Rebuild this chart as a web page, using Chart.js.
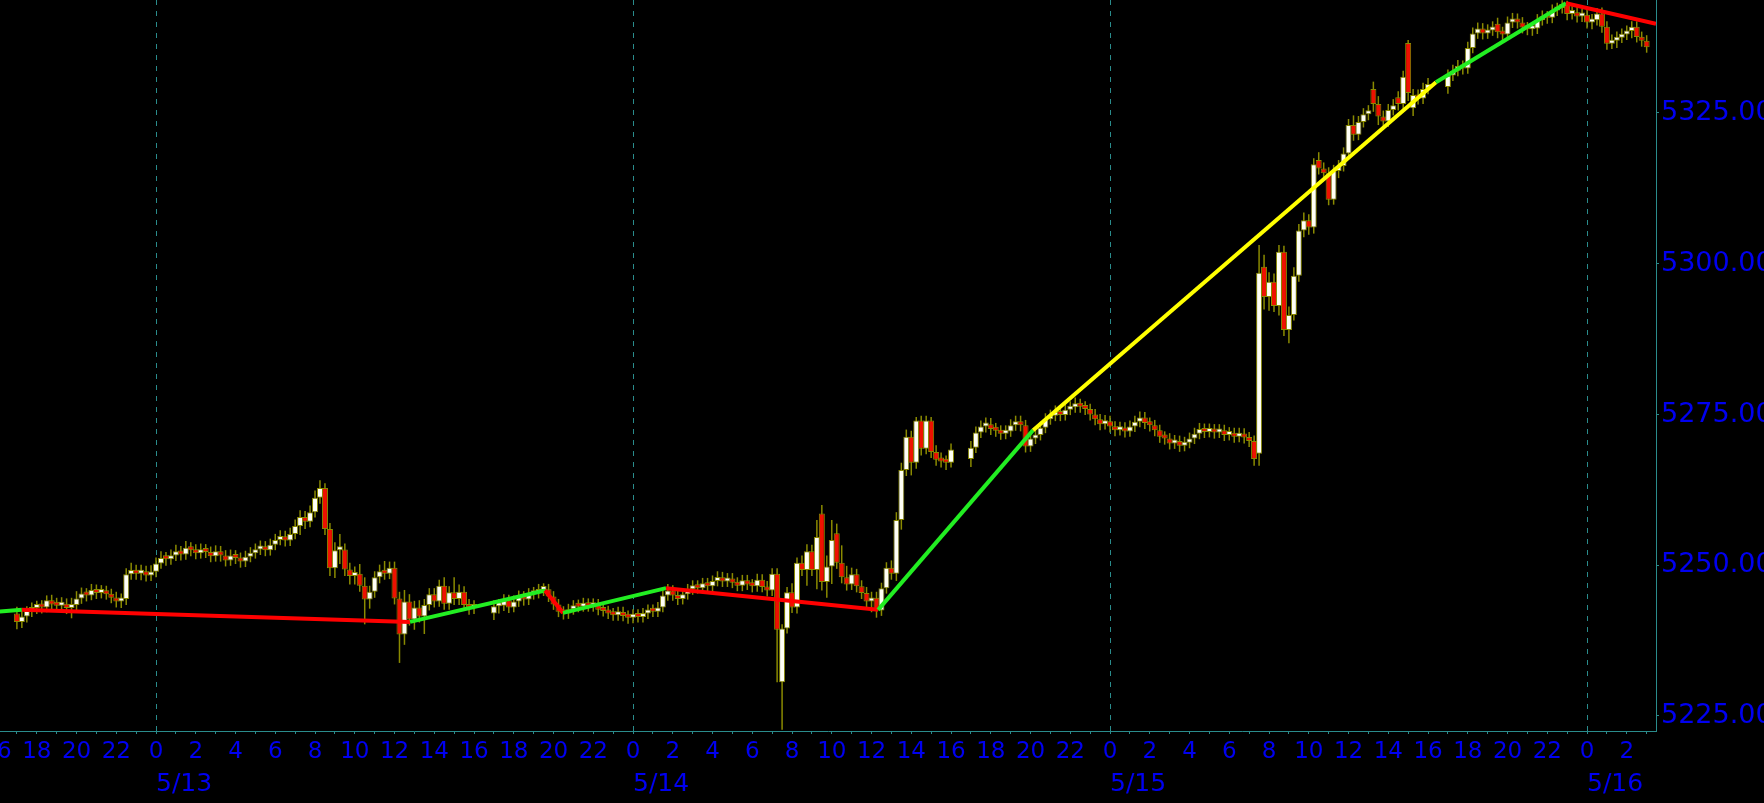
<!DOCTYPE html>
<html>
<head>
<meta charset="utf-8">
<script src="https://cdn.jsdelivr.net/npm/chart.js@4.4.1/dist/chart.umd.min.js"></script>
<style>
html,body{margin:0;padding:0;background:#000;overflow:hidden;}
canvas{display:block;background:#000;}
</style>
</head>
<body>
<canvas id="c" width="1764" height="803"></canvas>
<script>
// ---- time axis: 15-minute bars, hours relative to 5/13 00:00 ----
const sessions = [[-7, 16], [17, 40], [41, 64], [65, 75]];

// ---- OHLC values ----
const opens = [
5242.0,5240.6,5241.5,5242.4,5242.9,5243.1,5243.0,5244.2,5243.5,5243.3,
5243.6,5242.9,5243.4,5244.5,5245.3,5245.0,5245.9,5245.4,5245.8,5245.2,
5244.6,5244.0,5244.4,5248.5,5249.2,5248.6,5249.0,5248.3,5248.9,5250.3,
5251.2,5251.0,5251.6,5252.3,5251.8,5252.9,5252.5,5252.0,5252.6,5252.2,
5251.5,5252.3,5251.6,5250.8,5251.6,5251.2,5250.6,5251.4,5252.0,5252.6,
5253.1,5252.5,5253.4,5254.2,5254.8,5254.1,5255.2,5256.5,5258.0,5257.2,
5258.8,5261.2,5262.8,5256.0,5249.5,5252.5,5252.6,5249.3,5248.2,5248.6,
5246.6,5244.3,5245.6,5248.0,5249.0,5248.6,5249.6,5244.5,5238.5,5244.0,
5241.0,5243.0,5241.5,5243.4,5245.2,5244.0,5246.6,5243.6,5245.5,5244.4,
5245.6,5243.4,5242.9,
5242.0,5243.2,5243.3,5244.2,5243.0,5244.0,5244.8,5244.3,5245.2,5245.4,
5245.9,5246.0,5244.8,5243.5,5242.3,5242.0,5242.7,5243.3,5243.1,5243.6,
5243.2,5243.5,5242.6,5242.4,5242.0,5241.7,5242.2,5241.6,5241.3,5241.8,
5241.4,5242.0,5242.6,5242.3,5243.0,5245.0,5245.8,5245.0,5244.4,5245.2,
5246.0,5246.6,5246.2,5247.0,5246.5,5247.4,5248.0,5247.3,5247.8,5247.1,
5246.6,5247.5,5246.8,5246.5,5247.6,5246.4,5245.8,5248.6,5230.6,5239.5,
5245.5,5243.0,5250.4,5249.2,5252.3,5249.2,5258.6,5247.2,5249.8,5255.3,
5250.4,5248.0,5246.8,5248.5,5246.5,5245.4,5244.0,5244.6,5242.5,5246.2,
5249.6,5248.6,5257.5,5265.8,5271.3,5267.0,5274.0,5269.3,5274.0,5268.8,
5267.5,5267.2,5267.0,
5267.6,5269.5,5272.0,5273.0,5273.4,5272.6,5272.3,5271.8,5272.2,5273.2,
5273.8,5273.2,5269.7,5271.0,5271.6,5272.8,5274.2,5274.8,5275.5,5274.9,
5275.8,5276.2,5276.8,5276.3,5275.9,5275.0,5274.2,5273.4,5273.9,5273.0,
5272.4,5272.8,5272.2,5273.0,5273.8,5274.5,5273.6,5273.2,5272.4,5271.3,
5271.0,5270.2,5270.6,5269.8,5270.3,5271.0,5271.8,5272.6,5272.1,5272.5,
5272.0,5272.4,5271.6,5271.9,5271.3,5271.8,5271.2,5270.6,5268.5,5299.5,
5294.5,5297.0,5293.0,5302.0,5289.0,5291.5,5298.0,5305.5,5307.2,5306.0,
5317.2,5315.8,5315.0,5310.6,5315.4,5316.2,5318.3,5323.0,5321.4,5323.5,
5324.8,5329.0,5326.5,5324.4,5323.6,5325.5,5327.6,5326.5,5336.6,5325.8,
5328.0,5327.4,5329.0,
5329.3,5331.2,5332.0,5332.8,5332.4,5335.8,5338.2,5339.0,5338.2,5338.7,
5339.8,5338.4,5338.0,5340.0,5340.6,5340.0,5339.2,5338.9,5339.0,5340.4,
5341.0,5340.8,5342.0,5342.4,5343.0,5341.4,5341.7,5341.0,5341.3,5340.0,
5340.4,5341.5,5339.3,5336.5,5337.0,5337.5,5338.0,5338.6,5339.3,5337.6,
5337.0
];
const highs = [
5243.1,5242.4,5243.2,5243.8,5244.1,5244.2,5245.0,5245.1,5244.6,5244.7,
5244.5,5244.6,5245.7,5246.3,5246.2,5246.9,5246.8,5246.7,5246.6,5246.1,
5245.6,5245.3,5249.5,5250.4,5250.1,5250.1,5249.9,5250.0,5251.3,5252.3,
5252.2,5252.6,5253.4,5253.2,5254.0,5253.8,5253.5,5253.6,5253.5,5253.1,
5253.3,5253.2,5252.5,5252.6,5252.5,5252.1,5252.4,5253.0,5253.6,5254.1,
5254.0,5254.4,5255.2,5255.8,5255.7,5256.2,5257.6,5259.1,5259.0,5259.9,
5262.4,5264.1,5263.6,5257.0,5253.8,5255.2,5253.6,5250.4,5249.8,5250.2,
5248.0,5246.6,5249.0,5250.1,5250.7,5250.6,5250.6,5245.6,5245.9,5245.2,
5244.1,5244.2,5244.4,5246.2,5246.2,5247.6,5248.0,5246.5,5248.0,5246.8,
5246.5,5244.4,5244.2,
5244.2,5244.4,5245.2,5245.1,5245.0,5245.8,5245.7,5246.2,5246.4,5246.9,
5247.0,5246.9,5245.7,5244.4,5243.2,5243.6,5244.2,5244.3,5244.6,5244.5,
5244.5,5244.4,5243.5,5243.3,5242.9,5243.1,5243.1,5242.5,5242.7,5242.7,
5242.9,5243.5,5243.5,5243.9,5245.9,5246.9,5246.7,5245.9,5246.1,5246.9,
5247.5,5247.5,5247.9,5247.9,5248.3,5249.0,5248.9,5248.7,5248.7,5248.0,
5248.4,5248.4,5247.7,5248.6,5248.5,5247.4,5249.5,5249.5,5240.2,5246.4,
5247.0,5251.3,5251.6,5253.5,5253.4,5257.5,5260.0,5251.6,5257.5,5256.9,
5253.3,5249.9,5249.6,5249.4,5247.5,5246.4,5245.6,5245.6,5247.1,5250.5,
5250.8,5258.8,5267.0,5272.5,5272.3,5274.6,5274.8,5274.8,5274.6,5269.9,
5268.7,5268.2,5270.2,
5270.6,5273.0,5274.0,5274.5,5274.4,5273.6,5273.2,5273.2,5274.2,5274.8,
5274.8,5274.1,5272.0,5272.6,5273.8,5275.2,5275.8,5276.5,5276.4,5276.8,
5277.2,5277.8,5277.6,5277.2,5276.8,5275.9,5275.1,5274.9,5274.8,5273.9,
5273.8,5273.7,5274.0,5274.8,5275.5,5275.4,5274.5,5274.1,5273.3,5272.2,
5271.9,5271.6,5271.5,5271.3,5272.0,5272.8,5273.6,5273.5,5273.5,5273.4,
5273.4,5273.3,5272.9,5272.8,5272.8,5272.7,5272.1,5271.5,5303.1,5301.5,
5298.6,5298.4,5303.1,5303.0,5292.9,5299.4,5306.6,5308.5,5308.2,5317.5,
5318.5,5316.8,5316.0,5316.4,5317.2,5319.3,5324.0,5324.6,5324.5,5325.8,
5326.3,5330.2,5327.8,5325.4,5326.5,5327.3,5328.6,5332.0,5337.1,5329.0,
5328.9,5330.0,5330.8,
5332.2,5333.0,5333.8,5333.7,5336.8,5339.2,5340.0,5339.9,5339.7,5340.2,
5340.8,5339.3,5341.0,5341.6,5341.5,5340.9,5340.1,5340.0,5341.4,5342.0,
5341.9,5343.0,5343.3,5343.7,5343.6,5342.7,5342.6,5342.3,5342.2,5341.4,
5342.4,5342.5,5340.2,5338.0,5338.5,5339.0,5339.5,5340.2,5340.2,5338.5,
5337.9
];
const lows = [
5239.4,5239.6,5240.5,5241.4,5241.9,5242.0,5242.2,5242.6,5242.3,5242.4,
5241.9,5241.2,5242.5,5243.6,5244.0,5244.2,5244.4,5244.5,5244.3,5243.7,
5243.0,5242.9,5243.4,5247.6,5247.6,5247.5,5247.3,5247.4,5248.0,5249.4,
5249.9,5250.1,5250.7,5250.8,5250.9,5251.5,5251.0,5251.1,5251.2,5250.5,
5250.6,5250.6,5249.8,5249.9,5250.2,5249.6,5249.7,5250.5,5251.1,5251.7,
5251.5,5251.6,5252.5,5253.3,5253.1,5253.2,5254.3,5255.0,5256.0,5256.3,
5257.9,5260.2,5255.0,5248.2,5247.9,5250.2,5248.2,5246.8,5246.8,5245.6,
5240.2,5242.8,5244.6,5247.0,5247.6,5247.7,5243.5,5233.8,5236.8,5240.0,
5239.3,5240.5,5238.6,5242.5,5243.0,5243.1,5242.6,5242.6,5243.4,5243.4,
5242.4,5241.8,5241.9,
5240.9,5242.0,5242.4,5242.1,5242.2,5243.1,5243.3,5243.4,5244.3,5244.5,
5244.9,5243.9,5242.6,5241.4,5241.0,5241.1,5241.8,5242.2,5242.3,5242.3,
5242.3,5241.7,5241.5,5241.1,5240.8,5240.8,5240.7,5240.3,5240.4,5240.5,
5240.5,5241.1,5241.4,5241.4,5242.2,5244.1,5244.1,5243.4,5243.5,5244.3,
5245.1,5245.3,5245.3,5245.6,5245.6,5246.5,5246.4,5246.4,5246.2,5245.7,
5245.7,5245.9,5245.5,5245.6,5245.5,5244.8,5244.9,5230.6,5222.7,5238.7,
5242.1,5242.0,5248.2,5246.6,5248.2,5246.0,5245.8,5244.6,5246.9,5249.4,
5247.0,5245.8,5245.9,5245.5,5244.4,5243.0,5242.2,5241.3,5241.6,5245.3,
5247.6,5247.4,5255.9,5264.8,5264.9,5266.0,5268.2,5268.4,5267.8,5266.5,
5266.2,5265.8,5266.2,
5266.3,5268.6,5271.1,5272.0,5271.6,5271.3,5270.8,5270.9,5271.3,5272.3,
5272.2,5268.7,5268.8,5270.1,5270.7,5271.9,5273.3,5273.9,5273.9,5274.0,
5274.9,5275.3,5275.3,5274.9,5274.0,5273.2,5272.4,5272.5,5272.0,5271.4,
5271.5,5271.2,5271.3,5272.1,5272.9,5272.6,5272.2,5271.4,5270.3,5270.0,
5269.2,5269.3,5268.8,5268.9,5269.4,5270.1,5270.9,5271.1,5271.2,5271.0,
5271.1,5270.6,5270.7,5270.3,5270.4,5270.2,5269.6,5266.5,5266.5,5292.4,
5292.2,5292.0,5291.4,5288.0,5286.8,5290.6,5297.0,5304.4,5304.8,5305.0,
5314.8,5314.0,5309.7,5309.8,5314.2,5315.3,5317.4,5320.4,5320.5,5322.6,
5323.8,5325.2,5323.0,5322.6,5322.7,5324.6,5325.4,5325.6,5327.0,5324.5,
5326.4,5326.5,5328.1,
5328.2,5330.3,5331.1,5331.4,5331.5,5334.9,5337.3,5337.2,5337.3,5337.8,
5337.4,5337.0,5337.1,5339.1,5339.0,5338.2,5337.9,5337.8,5338.1,5339.5,
5339.8,5339.9,5341.1,5341.5,5340.4,5340.5,5340.0,5340.1,5339.0,5338.9,
5339.5,5338.3,5335.5,5335.6,5335.8,5336.6,5337.1,5337.4,5336.7,5336.0,
5335.0
];
const closes = [
5240.6,5241.5,5242.4,5242.9,5243.1,5243.0,5244.2,5243.5,5243.3,5243.6,
5242.9,5243.4,5244.5,5245.3,5245.0,5245.9,5245.4,5245.8,5245.2,5244.6,
5244.0,5244.4,5248.5,5249.2,5248.6,5249.0,5248.3,5248.9,5250.3,5251.2,
5251.0,5251.6,5252.3,5251.8,5252.9,5252.5,5252.0,5252.6,5252.2,5251.5,
5252.3,5251.6,5250.8,5251.6,5251.2,5250.6,5251.4,5252.0,5252.6,5253.1,
5252.5,5253.4,5254.2,5254.8,5254.1,5255.2,5256.5,5258.0,5257.2,5258.8,
5261.2,5262.8,5256.0,5249.5,5252.5,5252.6,5249.3,5248.2,5248.6,5246.6,
5244.3,5245.6,5248.0,5249.0,5248.6,5249.6,5244.5,5238.5,5244.0,5241.0,
5243.0,5241.5,5243.4,5245.2,5244.0,5246.6,5243.6,5245.5,5244.4,5245.6,
5243.4,5242.9,5243.2,
5243.2,5243.3,5244.2,5243.0,5244.0,5244.8,5244.3,5245.2,5245.4,5245.9,
5246.0,5244.8,5243.5,5242.3,5242.0,5242.7,5243.3,5243.1,5243.6,5243.2,
5243.5,5242.6,5242.4,5242.0,5241.7,5242.2,5241.6,5241.3,5241.8,5241.4,
5242.0,5242.6,5242.3,5243.0,5245.0,5245.8,5245.0,5244.4,5245.2,5246.0,
5246.6,5246.2,5247.0,5246.5,5247.4,5248.0,5247.3,5247.8,5247.1,5246.6,
5247.5,5246.8,5246.5,5247.6,5246.4,5245.8,5248.6,5239.3,5239.5,5245.5,
5243.0,5250.4,5249.2,5252.3,5249.2,5254.7,5247.2,5249.8,5254.2,5250.4,
5248.0,5246.8,5248.5,5246.5,5245.4,5244.0,5244.6,5242.5,5246.2,5249.6,
5248.6,5257.5,5265.8,5271.3,5267.0,5274.0,5269.3,5274.0,5268.8,5267.5,
5267.2,5267.0,5269.2,
5269.5,5272.0,5273.0,5273.4,5272.6,5272.3,5271.8,5272.2,5273.2,5273.8,
5273.2,5269.7,5271.0,5271.6,5272.8,5274.2,5274.8,5275.5,5274.9,5275.8,
5276.2,5276.8,5276.3,5275.9,5275.0,5274.2,5273.4,5273.9,5273.0,5272.4,
5272.8,5272.2,5273.0,5273.8,5274.5,5273.6,5273.2,5272.4,5271.3,5271.0,
5270.2,5270.6,5269.8,5270.3,5271.0,5271.8,5272.6,5272.1,5272.5,5272.0,
5272.4,5271.6,5271.9,5271.3,5271.8,5271.2,5270.6,5267.6,5298.5,5294.5,
5297.0,5293.0,5302.0,5289.0,5291.5,5298.0,5305.5,5307.2,5306.0,5316.5,
5315.8,5315.0,5310.6,5315.4,5316.2,5318.3,5323.0,5321.4,5323.5,5324.8,
5325.3,5326.5,5324.4,5323.6,5325.5,5326.3,5326.5,5331.0,5328.3,5328.0,
5327.4,5329.0,5329.8,
5331.2,5332.0,5332.8,5332.4,5335.8,5338.2,5339.0,5338.2,5338.7,5339.2,
5338.4,5338.0,5340.0,5340.6,5340.0,5339.2,5338.9,5339.0,5340.4,5341.0,
5340.8,5342.0,5342.4,5343.0,5341.4,5341.7,5341.0,5341.3,5340.0,5340.4,
5341.5,5339.3,5336.5,5337.0,5337.5,5338.0,5338.6,5339.3,5337.6,5337.0,
5335.9
];

// ---- trend (zigzag) line ----
const zigHours  = [-8.0, -6.75, 12.78, 19.57, 20.48, 25.66, 36.33, 44.13, 64.4, 70.94, 75.47];
const zigPrices = [5242.3, 5242.6, 5240.6, 5245.8, 5242.1, 5246.2, 5242.6, 5272.4, 5330.1, 5343.2, 5339.8];
const zigColors = ['#22ee22','#ff0000','#22ee22','#ff0000','#22ee22','#ff0000','#22ee22','#ffff00','#22ee22','#ff0000'];

// ---- axes ----
const xMin = -7.85, xMax = 75.47;
const yMin = 5222.51, yMax = 5343.74;
const yTicks = [5225, 5250, 5275, 5300, 5325];
const hourTicks = [];
for (let h = -8; h <= 75; h++) hourTicks.push(h);
const dateTicks = [0, 24, 48, 72];
const dateLabels = ['5/13', '5/14', '5/15', '5/16'];

// build bar times
const times = [];
sessions.forEach(([a, b]) => { for (let t = a; t <= b + 1e-9; t += 0.25) times.push(t); });

const TEAL = '#2a8c8c';
const BLUE = '#0000f0';
const OLIVE = '#8a8a00';
const FONT = "'DejaVu Sans', 'Verdana', sans-serif";

const bodyData = times.map((t, i) => ({ x: t, y: [opens[i], closes[i]] }));
const wickData = times.map((t, i) => ({ x: t, y: [lows[i], highs[i]] }));
const zigData = zigHours.map((h, i) => ({ x: h, y: zigPrices[i] }));

new Chart(document.getElementById('c'), {
  type: 'bar',
  data: {
    datasets: [
      {
        type: 'line', data: zigData, order: 0,
        borderWidth: 4, pointRadius: 0, tension: 0, fill: false,
        borderColor: '#ffff00',
        segment: { borderColor: ctx => zigColors[ctx.p0DataIndex] }
      },
      {
        data: bodyData, order: 1, grouped: false, barThickness: 6, minBarLength: 4,
        backgroundColor: ctx => (closes[ctx.dataIndex] >= opens[ctx.dataIndex] ? '#fffff4' : '#ee1100'),
        borderColor: OLIVE, borderWidth: 1, borderSkipped: false, inflateAmount: 0
      },
      {
        data: wickData, order: 2, grouped: false, barThickness: 1.5,
        backgroundColor: OLIVE, borderWidth: 0, inflateAmount: 0
      }
    ]
  },
  options: {
    responsive: false,
    devicePixelRatio: 1,
    animation: false,
    events: [],
    layout: { padding: 0 },
    plugins: { legend: { display: false }, tooltip: { enabled: false } },
    scales: {
      x: {
        type: 'linear', position: 'bottom', min: xMin, max: xMax, offset: false, weight: 0,
        afterBuildTicks: s => { s.ticks = hourTicks.map(v => ({ value: v })); },
        afterFit: s => { s.height = 36; s.paddingLeft = 0; s.paddingRight = 0; },
        grid: { offset: false, drawOnChartArea: false, drawTicks: true, tickLength: 3, color: TEAL, tickColor: TEAL },
        border: { display: true, color: TEAL, width: 1 },
        ticks: {
          autoSkip: false, maxRotation: 0, minRotation: 0, padding: 4, color: BLUE,
          font: { family: FONT, size: 23 },
          callback: v => (Math.round(v) % 2 === 0 ? String(((Math.round(v) % 24) + 24) % 24) : '')
        }
      },
      x2: {
        type: 'linear', position: 'bottom', min: xMin, max: xMax, offset: false, weight: 1,
        afterBuildTicks: s => { s.ticks = dateTicks.map(v => ({ value: v })); },
        afterFit: s => { s.height = 36; s.paddingLeft = 0; s.paddingRight = 0; },
        grid: { offset: false, drawOnChartArea: true, drawTicks: false, color: TEAL, lineWidth: 1 },
        border: { display: false, dash: [5, 6] },
        ticks: {
          autoSkip: false, maxRotation: 0, minRotation: 0, padding: 2, color: BLUE, align: 'start',
          font: { family: FONT, size: 25 },
          callback: (v) => { const k = dateTicks.indexOf(v); return k >= 0 ? dateLabels[k] : ''; }
        }
      },
      y: {
        type: 'linear', position: 'right', min: yMin, max: yMax,
        afterBuildTicks: s => { s.ticks = yTicks.map(v => ({ value: v })); },
        afterFit: s => { s.width = 108; s.paddingTop = 0; s.paddingBottom = 0; },
        grid: { offset: false, drawOnChartArea: false, drawTicks: true, tickLength: 3, color: TEAL, tickColor: TEAL },
        border: { display: true, color: TEAL, width: 1 },
        ticks: {
          autoSkip: false, padding: 2, color: BLUE,
          font: { family: FONT, size: 27 },
          callback: v => Number(v).toFixed(3)
        }
      }
    }
  }
});
</script>
</body>
</html>
